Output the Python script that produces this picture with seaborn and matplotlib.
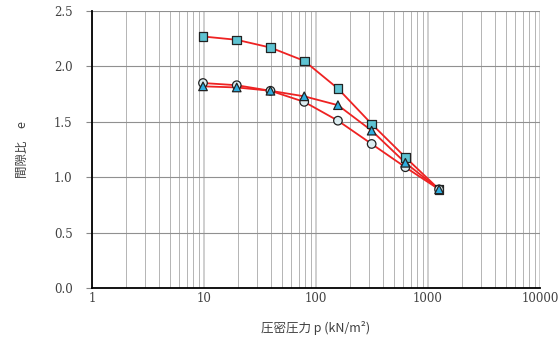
import numpy as np
import pandas as pd
import matplotlib
matplotlib.use("Agg")
import matplotlib.pyplot as plt
from matplotlib.ticker import FixedLocator, LogLocator, NullFormatter, FuncFormatter
import seaborn as sns

# Consolidation pressure steps (kN/m^2)
pressure = [9.8, 19.6, 39.2, 78.5, 157, 314, 628, 1256]

# Void ratio for three specimens
e_square = [2.27, 2.24, 2.17, 2.05, 1.80, 1.48, 1.18, 0.89]
e_circle = [1.85, 1.83, 1.78, 1.68, 1.51, 1.30, 1.09, 0.89]
e_triangle = [1.82, 1.81, 1.78, 1.73, 1.65, 1.42, 1.13, 0.89]

series_names = ["A", "B", "C"]
x_ticks = [1, 10, 100, 1000, 10000]
y_ticks = [0.0, 0.5, 1.0, 1.5, 2.0, 2.5]

df = pd.DataFrame({
    "p": pressure * 3,
    "e": e_square + e_circle + e_triangle,
    "specimen": np.repeat(series_names, len(pressure)),
})

sns.set_theme(style="white")
plt.rcParams["font.family"] = ["Noto Sans CJK JP", "DejaVu Sans"]

fig = plt.figure(figsize=(5.59, 3.44), dpi=100)
ax = fig.add_axes([92 / 559, 56 / 344, 448 / 559, 277 / 344])

# red connecting lines
sns.lineplot(data=df, x="p", y="e", units="specimen", estimator=None,
             color="#ee2222", linewidth=1.3, ax=ax, zorder=3, sort=False)

# markers
sns.scatterplot(data=df, x="p", y="e", hue="specimen", style="specimen",
                palette={"A": "#5ec3d2", "B": "#dcedf1", "C": "#2eaee0"},
                markers={"A": "s", "B": "o", "C": "^"},
                s=38, edgecolor="#222222", linewidth=0.9, legend=False,
                ax=ax, zorder=4)

ax.set_xscale("log")
ax.set_xlim(1, 10000)
ax.set_ylim(0, 2.5)
ax.set_xlabel("")
ax.set_ylabel("")

ax.xaxis.set_major_locator(FixedLocator(x_ticks))
ax.xaxis.set_minor_locator(LogLocator(base=10, subs=np.arange(2, 10), numticks=20))
ax.xaxis.set_minor_formatter(NullFormatter())
ax.xaxis.set_major_formatter(FuncFormatter(lambda v, _: f"{int(round(v))}"))
ax.yaxis.set_major_locator(FixedLocator(y_ticks))
ax.yaxis.set_major_formatter(FuncFormatter(lambda v, _: f"{v:.1f}"))

ax.grid(True, which="major", axis="y", color="#909090", linewidth=0.8)
ax.grid(True, which="major", axis="x", color="#cfcfcf", linewidth=1.4)
ax.grid(True, which="minor", axis="x", color="#b4b4b4", linewidth=0.7)

for side in ["top", "right"]:
    ax.spines[side].set_visible(False)
for side in ["left", "bottom"]:
    ax.spines[side].set_color("black")
    ax.spines[side].set_linewidth(1.3)

ax.tick_params(axis="y", which="major", left=True, length=4, width=0.8,
               color="#888888", pad=10)
ax.tick_params(axis="x", which="both", bottom=False, length=0, pad=3)
for lab in ax.get_xticklabels() + ax.get_yticklabels():
    lab.set_fontfamily("DejaVu Serif")
    lab.set_fontsize(8.5)
    lab.set_color("#404040")

fig.text(316 / 559, 1 - 328 / 344, "圧密圧力 p (kN/m²)", fontsize=9,
         color="#404040", ha="center", va="center")
fig.text(22 / 559, 1 - 150 / 344, "間隙比　e", fontsize=9, color="#404040",
         rotation=90, ha="center", va="center")

fig.savefig("out.png", dpi=100)
